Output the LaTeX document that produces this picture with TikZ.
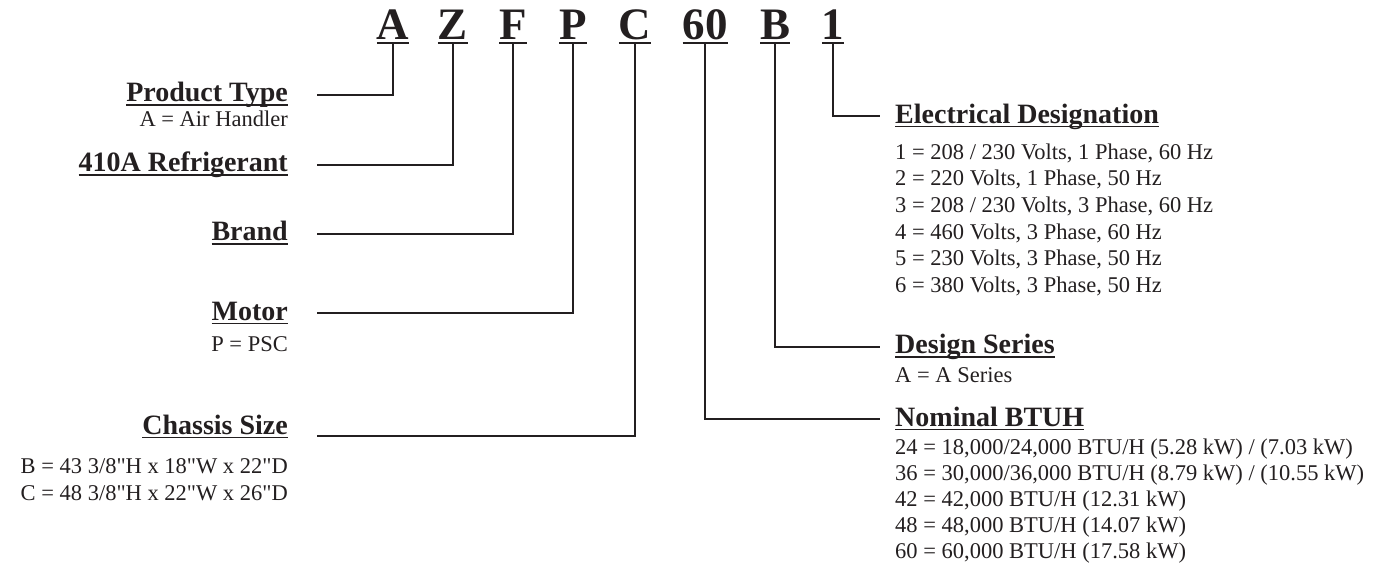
\documentclass[tikz,border=0pt]{standalone}
\usepackage{fontspec}
\setmainfont[Ligatures=TeXOff]{Liberation Serif}
\usetikzlibrary{positioning}
\definecolor{inkgray}{RGB}{35,31,32}
\newsavebox\ulsave
% underline at a fixed drop below the baseline
\newcommand{\undl}[3]{\sbox\ulsave{#3}\rlap{\rule[-#1]{\wd\ulsave}{#2}}\usebox\ulsave}

\begin{document}
\begin{tikzpicture}[x=1pt, y=-1pt,
  code/.style={inner sep=0pt, anchor=south, text=inkgray,
               font=\fontsize{45}{50}\selectfont\bfseries},
  head/.style={inner sep=0pt, text height=19.6pt, text depth=6.2pt, text=inkgray,
               font=\fontsize{28}{32}\selectfont\bfseries},
  body/.style={inner sep=0pt, text=inkgray, font=\fontsize{22.5}{27}\selectfont},
  link/.style={draw=inkgray, line width=2.2pt}
]
\useasboundingbox (0,0) rectangle (1391,579);

% model number
\node[code] (cA) at (393,44) {\undl{0.1em}{0.045em}{A}};
\node[code] (cZ) at (453,44) {\undl{0.1em}{0.045em}{Z}};
\node[code] (cF) at (513,44) {\undl{0.1em}{0.045em}{F}};
\node[code] (cP) at (573,44) {\undl{0.1em}{0.045em}{P}};
\node[code] (cC) at (635,44) {\undl{0.1em}{0.045em}{C}};
\node[code] (c60) at (705,44) {\undl{0.1em}{0.045em}{60}};
\node[code] (cB) at (775,44) {\undl{0.1em}{0.045em}{B}};
\node[code] (c1) at (833,44) {\undl{0.1em}{0.045em}{1}};

% left side
\node[head, anchor=base east] (ptype) at (288,101.7) {\undl{0.15em}{0.055em}{Product Type}};
\node[body, anchor=base east] (ptypeA) at (288,126.7) {A = Air Handler};
\node[head, anchor=base east] (refrig) at (288,171.7) {\undl{0.15em}{0.055em}{410A Refrigerant}};
\node[head, anchor=base east] (brand) at (288,240.7) {\undl{0.15em}{0.055em}{Brand}};
\node[head, anchor=base east] (motor) at (288,320) {\undl{0.15em}{0.055em}{Motor}};
\node[body, anchor=base east] (motorP) at (288,351) {P = PSC};
\node[head, anchor=base east] (chassis) at (288,434) {\undl{0.15em}{0.055em}{Chassis Size}};
\node[body, anchor=base east] (chassisB) at (288,473) {B = 43 3/8"H x 18"W x 22"D};
\node[body, anchor=base east] (chassisC) at (288,500) {C = 48 3/8"H x 22"W x 26"D};

% right side
\node[head, anchor=base west] (elec) at (895,123) {\undl{0.15em}{0.055em}{Electrical Designation}};
\foreach \txt [count=\i] in {{1 = 208 / 230 Volts, 1 Phase, 60 Hz},
    {2 = 220 Volts, 1 Phase, 50 Hz}, {3 = 208 / 230 Volts, 3 Phase, 60 Hz},
    {4 = 460 Volts, 3 Phase, 60 Hz}, {5 = 230 Volts, 3 Phase, 50 Hz},
    {6 = 380 Volts, 3 Phase, 50 Hz}}
  \node[body, anchor=base west] (elec\i) at (895,{132.3+26.7*\i}) {\txt};
\node[head, anchor=base west] (series) at (895,353.7) {\undl{0.15em}{0.055em}{Design Series}};
\node[body, anchor=base west] (seriesA) at (895,382) {A = A Series};
\node[head, anchor=base west] (btuh) at (895,426) {\undl{0.15em}{0.055em}{Nominal BTUH}};
\foreach \txt [count=\i] in {{24 = 18,000/24,000 BTU/H (5.28 kW) / (7.03 kW)},
    {36 = 30,000/36,000 BTU/H (8.79 kW) / (10.55 kW)},
    {42 = 42,000 BTU/H (12.31 kW)}, {48 = 48,000 BTU/H (14.07 kW)},
    {60 = 60,000 BTU/H (17.58 kW)}}
  \node[body, anchor=base west] (btuh\i) at (895,{427.8+26.2*\i}) {\txt};

% connectors
\draw[link] (cA.south) |- ([xshift=29pt]ptype.east);
\draw[link] (cZ.south) |- ([xshift=29pt]refrig.east);
\draw[link] (cF.south) |- ([xshift=29pt]brand.east);
\draw[link] (cP.south) |- ([xshift=29pt]motor.east);
\draw[link] (cC.south) |- ([xshift=29pt,yshift=-8.7pt]chassis.east);
\draw[link] (c1.south) |- ([xshift=-15pt]elec.west);
\draw[link] (cB.south) |- ([xshift=-15pt]series.west);
\draw[link] (c60.south) |- ([xshift=-15pt]btuh.west);
\end{tikzpicture}
\end{document}
